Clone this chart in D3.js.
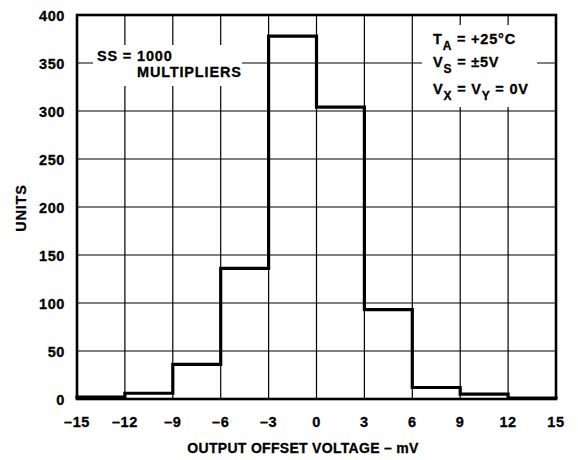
<!DOCTYPE html>
<html><head><meta charset="utf-8">
<script src="https://cdn.jsdelivr.net/npm/d3@7"></script>
<style>body{margin:0;background:#fff}svg{display:block}text{font-family:"Liberation Sans",Arial,sans-serif;font-weight:bold;fill:#000;stroke:#000;stroke-width:0.3px}</style>
</head><body>
<script>
const binEdges = [-15, -12, -9, -6, -3, 0, 3, 6, 9, 12, 15];
const units = [2, 6, 36, 136, 378, 304, 93, 12, 5, 1];
const xTicks = [-15, -12, -9, -6, -3, 0, 3, 6, 9, 12, 15];
const yTicks = [0, 50, 100, 150, 200, 250, 300, 350, 400];
const xTitle = "OUTPUT OFFSET VOLTAGE \u2013 mV";
const yTitle = "UNITS";

const W = 578, H = 460;
const m = {l: 77, r: 556, t: 15, b: 399};
const svg = d3.select("body").append("svg").attr("width", W).attr("height", H);
const x = d3.scaleLinear().domain([-15, 15]).range([m.l, m.r]);
const y = d3.scaleLinear().domain([0, 400]).range([m.b, m.t]);

// grid
const g = svg.append("g");
g.selectAll(".vg").data(xTicks.slice(1, -1)).join("line")
  .attr("x1", d => x(d)).attr("x2", d => x(d)).attr("y1", m.t).attr("y2", m.b)
  .attr("stroke", "#000").attr("stroke-width", 1.2);
g.selectAll(".hg").data(yTicks.slice(1, -1)).join("line")
  .attr("y1", d => y(d)).attr("y2", d => y(d)).attr("x1", m.l).attr("x2", m.r)
  .attr("stroke", "#000").attr("stroke-width", 1.2);

// label boxes masking grid
svg.append("rect").attr("x", 93).attr("y", 45).attr("width", 149).attr("height", 41).attr("fill", "#fff");
svg.append("rect").attr("x", 422).attr("y", 25).attr("width", 115).attr("height", 82).attr("fill", "#fff");

// histogram
const pts = [[binEdges[0], 0]];
units.forEach((v, i) => pts.push([binEdges[i], v]));
pts.push([binEdges[binEdges.length - 1], units[units.length - 1]]);
pts.push([binEdges[binEdges.length - 1], 0]);
const line = d3.line().x(d => x(d[0])).y(d => y(d[1])).curve(d3.curveStepAfter);
svg.append("path").attr("d", line(pts)).attr("fill", "none").attr("stroke", "#000")
  .attr("stroke-width", 3.2).attr("stroke-linejoin", "miter");

// frame
svg.append("rect").attr("x", m.l).attr("y", m.t).attr("width", m.r - m.l).attr("height", m.b - m.t)
  .attr("fill", "none").attr("stroke", "#000").attr("stroke-width", 2.6);

// axes labels
const fs = 14.5, ls = 0.6;
svg.selectAll(".yl").data(yTicks).join("text")
  .attr("x", 65).attr("y", d => y(d) + 6).attr("text-anchor", "end")
  .attr("font-size", fs).attr("letter-spacing", ls).text(d => d);
svg.selectAll(".xl").data(xTicks).join("text")
  .attr("x", d => x(d)).attr("y", 427).attr("text-anchor", "middle")
  .attr("font-size", fs).attr("letter-spacing", ls).text(d => d < 0 ? "\u2013" + Math.abs(d) : d);
svg.append("text").attr("x", 303).attr("y", 453).attr("text-anchor", "middle")
  .attr("font-size", 14).attr("letter-spacing", 0.3).text(xTitle);
svg.append("text").attr("transform", "translate(26,208) rotate(-90)").attr("text-anchor", "middle")
  .attr("font-size", fs).attr("letter-spacing", 0.8).text(yTitle);

// annotations
svg.append("text").attr("x", 97).attr("y", 61).attr("font-size", fs).attr("letter-spacing", 0.83).text("SS = 1000");
svg.append("text").attr("x", 137).attr("y", 77).attr("font-size", fs).attr("letter-spacing", 0.83).text("MULTIPLIERS");

function cond(yb, parts) {
  const t = svg.append("text").attr("x", 433).attr("y", yb).attr("font-size", fs).attr("letter-spacing", 0.8);
  parts.forEach(p => {
    if (p.sub) t.append("tspan").attr("font-size", 12).attr("dy", 6).text(p.s);
    else t.append("tspan").attr("dy", p.back ? -6 : 0).text(p.s);
  });
}
cond(44, [{s: "T"}, {s: "A", sub: true}, {s: " = +25\u00B0C", back: true}]);
cond(67, [{s: "V"}, {s: "S", sub: true}, {s: " = \u00B15V", back: true}]);
cond(94, [{s: "V"}, {s: "X", sub: true}, {s: " = V", back: true}, {s: "Y", sub: true}, {s: " = 0V", back: true}]);
</script>
</body></html>
